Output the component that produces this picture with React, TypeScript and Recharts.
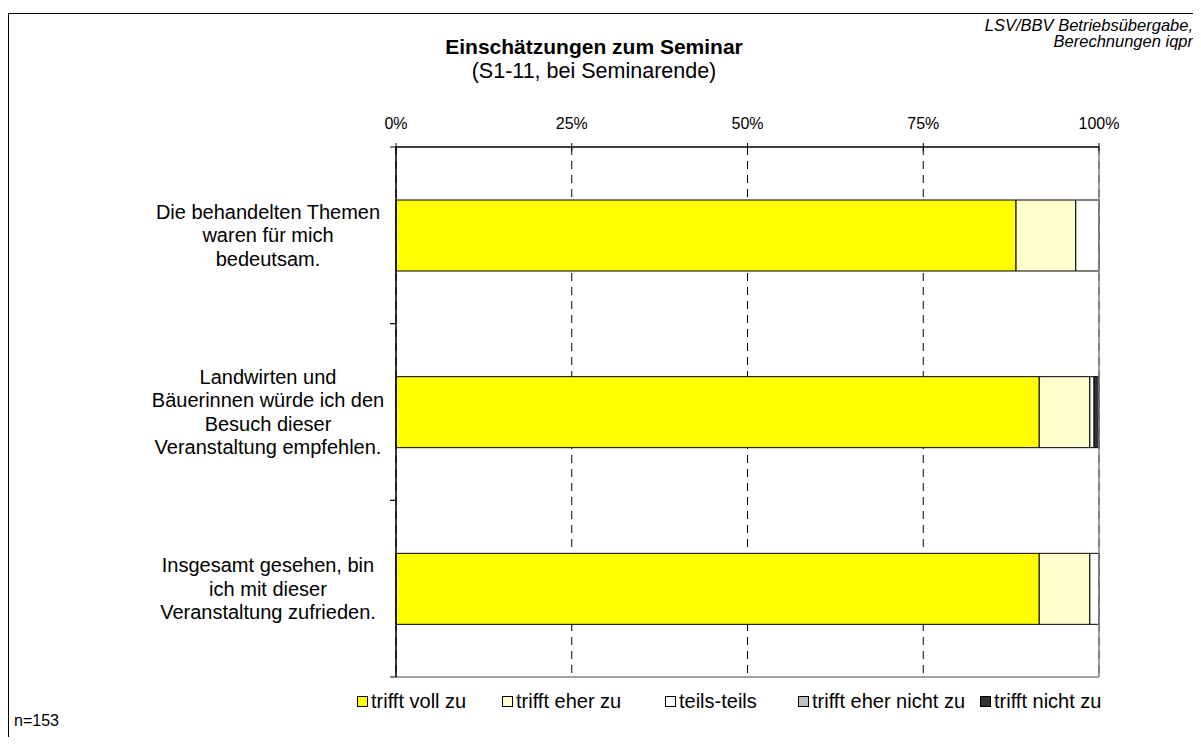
import React from 'react';
import {
  BarChart,
  Bar,
  XAxis,
  YAxis,
  CartesianGrid,
  ReferenceLine,
} from 'recharts';

const CATEGORIES = [
  'Die behandelten Themen\nwaren für mich\nbedeutsam.',
  'Landwirten und\nBäuerinnen würde ich den\nBesuch dieser\nVeranstaltung empfehlen.',
  'Insgesamt gesehen, bin\nich mit dieser\nVeranstaltung zufrieden.',
];

// percent of n=153 answers
const VOLL = [88.2, 91.5, 91.5];
const EHER = [8.5, 7.2, 7.2];
const TEILS = [3.3, 0.6, 1.3];
const EHER_NICHT = [0, 0, 0];
const NICHT = [0, 0.7, 0];

const SERIES_KEYS = ['voll', 'eher', 'teils', 'eherNicht', 'nicht'];
const SERIES_NAMES = ['trifft voll zu', 'trifft eher zu', 'teils-teils', 'trifft eher nicht zu', 'trifft nicht zu'];
const SERIES_COLORS = ['#FFFF00', '#FFFFCC', '#FFFFFF', '#C0C0C0', '#333333'];

const X_TICKS = [0, 25, 50, 75, 100];

const data = CATEGORIES.map((name, i) => ({
  name,
  voll: VOLL[i],
  eher: EHER[i],
  teils: TEILS[i],
  eherNicht: EHER_NICHT[i],
  nicht: NICHT[i],
}));

const W = 1201;
const H = 745;
const PLOT_TOP = 147;
const PLOT_BOTTOM = 677;
const PLOT_LEFT = 396;
const PLOT_RIGHT = 1099;
const X_AXIS_H = 40;
const Y_AXIS_W = 388;
const HALF_BAND = (PLOT_BOTTOM - PLOT_TOP) / CATEGORIES.length / 2;
const FONT = '"Liberation Sans", Arial, sans-serif';
// left edge of each legend swatch
const LEGEND_LEFT = [357, 502, 665, 798, 980];

function TopTick(props: any) {
  const { x, y, payload } = props;
  return (
    <g>
      <line x1={x} x2={x} y1={y - 4} y2={y + 4} stroke="#000" />
      <text x={x} y={y - 18} textAnchor="middle" fontSize={16} fill="#000" fontFamily={FONT}>
        {payload.value}%
      </text>
    </g>
  );
}

function CategoryTick(props: any) {
  const { x, y, payload } = props;
  const lines = String(payload.value).split('\n');
  const lh = 23.5;
  const y0 = y - ((lines.length - 1) * lh) / 2 + 7;
  return (
    <g>
      <line x1={x - 6} x2={x} y1={y - HALF_BAND} y2={y - HALF_BAND} stroke="#000" />
      <line x1={x - 6} x2={x} y1={y + HALF_BAND} y2={y + HALF_BAND} stroke="#000" />
      <text textAnchor="middle" fontSize={20} fill="#000" fontFamily={FONT}>
        {lines.map((l, i) => (
          <tspan key={i} x={x - 128} y={y0 + i * lh}>
            {l}
          </tspan>
        ))}
      </text>
    </g>
  );
}

// plot frame edges, taken from the chart's own offset
const topEdge = ({ offset }: any) => [offset ? offset.top : PLOT_TOP];
const bottomEdge = ({ offset }: any) => [offset ? offset.top + offset.height : PLOT_BOTTOM];

export default function App() {
  return (
    <div
      style={{
        position: 'relative',
        width: W,
        height: H,
        margin: -8,
        overflow: 'hidden',
        background: '#fff',
        fontFamily: FONT,
        color: '#000',
      }}
    >
      <div style={{ position: 'absolute', left: 0, top: -16, fontSize: 21, fontWeight: 'bold' }}>
        Abbildung 3
      </div>
      <div
        style={{
          position: 'absolute',
          left: 8,
          top: 13,
          width: W,
          height: H,
          borderLeft: '1px solid #000',
          borderTop: '1px solid #000',
        }}
      />
      <div
        style={{
          position: 'absolute',
          left: 883,
          width: 310,
          top: 17,
          fontSize: 16.5,
          fontStyle: 'italic',
          textAlign: 'right',
          lineHeight: '16px',
          whiteSpace: 'nowrap',
        }}
      >
        LSV/BBV Betriebsübergabe,
        <br />
        Berechnungen iqpr
      </div>
      <div style={{ position: 'absolute', left: 0, width: 1188, top: 34, textAlign: 'center' }}>
        <div style={{ fontSize: 21, fontWeight: 'bold', lineHeight: '26px' }}>Einschätzungen zum Seminar</div>
        <div style={{ fontSize: 21.5, lineHeight: '22px' }}>(S1-11, bei Seminarende)</div>
      </div>

      <div style={{ position: 'absolute', left: 0, top: 0 }}>
        <BarChart
          width={W}
          height={H}
          data={data}
          layout="vertical"
          margin={{
            top: PLOT_TOP - X_AXIS_H,
            right: W - PLOT_RIGHT,
            bottom: H - PLOT_BOTTOM,
            left: PLOT_LEFT - Y_AXIS_W,
          }}
        >
          <CartesianGrid horizontal={false} stroke="#000" strokeDasharray="8 6" />
          <CartesianGrid vertical={false} stroke="#000" horizontalCoordinatesGenerator={topEdge} />
          <CartesianGrid
            vertical={false}
            stroke="#808080"
            strokeWidth={1.5}
            horizontalCoordinatesGenerator={bottomEdge}
          />
          {SERIES_KEYS.map((k, i) => (
            <Bar
              key={k}
              dataKey={k}
              name={SERIES_NAMES[i]}
              stackId="a"
              fill={SERIES_COLORS[i]}
              stroke="#000"
              strokeWidth={1}
              barSize={71}
              isAnimationActive={false}
            />
          ))}
          <XAxis
            type="number"
            orientation="top"
            domain={[0, 100]}
            ticks={X_TICKS}
            height={X_AXIS_H}
            tickSize={0}
            tickMargin={0}
            tickLine={false}
            axisLine
            stroke="#000"
            tick={<TopTick />}
            interval={0}
          />
          <YAxis
            type="category"
            dataKey="name"
            width={Y_AXIS_W}
            tickSize={0}
            tickMargin={0}
            tickLine={false}
            axisLine
            stroke="#000"
            tick={<CategoryTick />}
            interval={0}
          />
          <ReferenceLine x={100} stroke="#808080" strokeWidth={1.5} />
          <ReferenceLine x={0} stroke="#000" />
        </BarChart>
      </div>

      {SERIES_NAMES.map((n, i) => (
        <div
          key={n}
          style={{
            position: 'absolute',
            left: LEGEND_LEFT[i],
            top: 690,
            display: 'flex',
            alignItems: 'center',
            fontSize: 20,
            lineHeight: '23px',
            whiteSpace: 'nowrap',
          }}
        >
          <span
            style={{
              display: 'inline-block',
              width: 9,
              height: 9,
              border: '1px solid #000',
              background: SERIES_COLORS[i],
              marginRight: 3,
            }}
          />
          <span>{n}</span>
        </div>
      ))}

      <div style={{ position: 'absolute', left: 14, top: 712, fontSize: 16 }}>n=153</div>
    </div>
  );
}
